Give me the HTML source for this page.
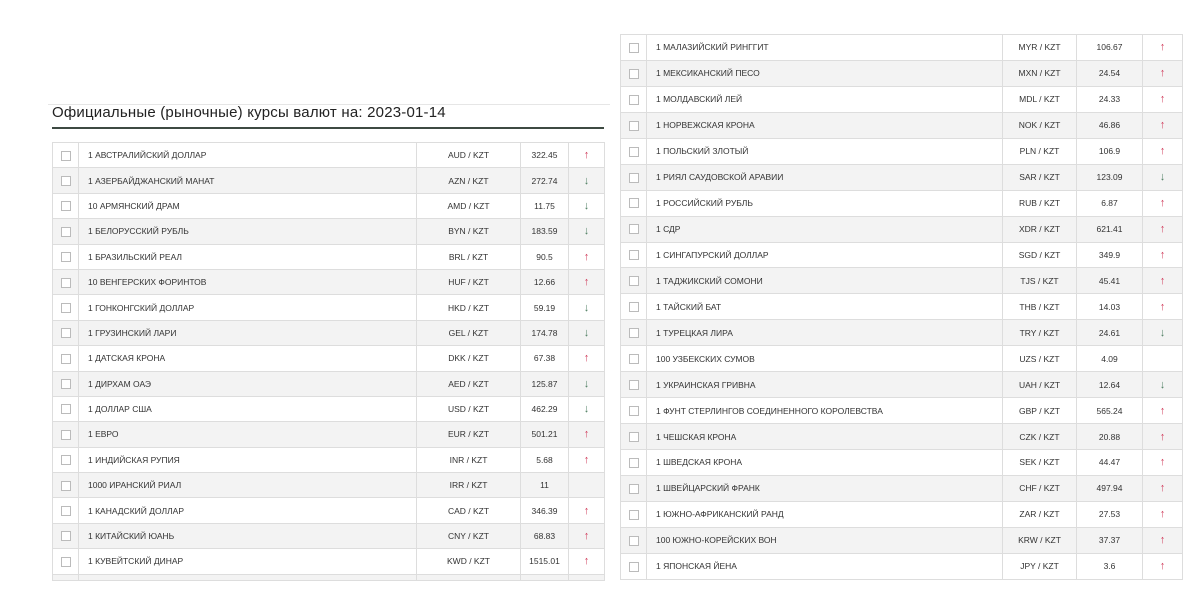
<!DOCTYPE html>
<html><head><meta charset="utf-8"><style>
body{margin:0;width:1200px;height:594px;background:#fff;position:relative;overflow:hidden;font-family:"Liberation Sans","DejaVu Sans",sans-serif;}
.title{position:absolute;left:52px;top:104px;font-size:15px;color:#222;letter-spacing:0.2px}
.gl{position:absolute;left:48px;top:104px;width:562px;height:1px;background:#e6e6e6}
.ul{position:absolute;left:52px;top:127px;width:552px;height:2px;background:#3d4a42}
table{position:absolute;border-collapse:collapse;table-layout:fixed;font-size:8.5px;color:#333}
td{border:1px solid #ddd;padding:0;overflow:hidden;white-space:nowrap}
tr:nth-child(even) td{background:#f3f3f3}
td.c{text-align:center}
td.n{padding-left:9px}
.cb{display:inline-block;width:8px;height:8px;border:1px solid #bbb;background:#fff;vertical-align:middle}
.u{color:#d03a5a;font-size:11px}
.d{color:#4d7d60;font-size:11px}
#L{left:52px;top:142px;width:552px}
#L tr{height:25.4px}
#R{left:620px;top:34px;width:562px}
#R tr{height:25.95px}
</style></head><body>
<div class="gl"></div>
<div class="title">Официальные (рыночные) курсы валют на: 2023-01-14</div>
<div class="ul"></div>
<table id="L">
<colgroup><col style="width:26px"><col style="width:338px"><col style="width:104px"><col style="width:48px"><col style="width:36px"></colgroup>
<tr><td class="c"><span class="cb"></span></td><td class="n">1 АВСТРАЛИЙСКИЙ ДОЛЛАР</td><td class="c">AUD / KZT</td><td class="c">322.45</td><td class="c u">↑</td></tr>
<tr><td class="c"><span class="cb"></span></td><td class="n">1 АЗЕРБАЙДЖАНСКИЙ МАНАТ</td><td class="c">AZN / KZT</td><td class="c">272.74</td><td class="c d">↓</td></tr>
<tr><td class="c"><span class="cb"></span></td><td class="n">10 АРМЯНСКИЙ ДРАМ</td><td class="c">AMD / KZT</td><td class="c">11.75</td><td class="c d">↓</td></tr>
<tr><td class="c"><span class="cb"></span></td><td class="n">1 БЕЛОРУССКИЙ РУБЛЬ</td><td class="c">BYN / KZT</td><td class="c">183.59</td><td class="c d">↓</td></tr>
<tr><td class="c"><span class="cb"></span></td><td class="n">1 БРАЗИЛЬСКИЙ РЕАЛ</td><td class="c">BRL / KZT</td><td class="c">90.5</td><td class="c u">↑</td></tr>
<tr><td class="c"><span class="cb"></span></td><td class="n">10 ВЕНГЕРСКИХ ФОРИНТОВ</td><td class="c">HUF / KZT</td><td class="c">12.66</td><td class="c u">↑</td></tr>
<tr><td class="c"><span class="cb"></span></td><td class="n">1 ГОНКОНГСКИЙ ДОЛЛАР</td><td class="c">HKD / KZT</td><td class="c">59.19</td><td class="c d">↓</td></tr>
<tr><td class="c"><span class="cb"></span></td><td class="n">1 ГРУЗИНСКИЙ ЛАРИ</td><td class="c">GEL / KZT</td><td class="c">174.78</td><td class="c d">↓</td></tr>
<tr><td class="c"><span class="cb"></span></td><td class="n">1 ДАТСКАЯ КРОНА</td><td class="c">DKK / KZT</td><td class="c">67.38</td><td class="c u">↑</td></tr>
<tr><td class="c"><span class="cb"></span></td><td class="n">1 ДИРХАМ ОАЭ</td><td class="c">AED / KZT</td><td class="c">125.87</td><td class="c d">↓</td></tr>
<tr><td class="c"><span class="cb"></span></td><td class="n">1 ДОЛЛАР США</td><td class="c">USD / KZT</td><td class="c">462.29</td><td class="c d">↓</td></tr>
<tr><td class="c"><span class="cb"></span></td><td class="n">1 ЕВРО</td><td class="c">EUR / KZT</td><td class="c">501.21</td><td class="c u">↑</td></tr>
<tr><td class="c"><span class="cb"></span></td><td class="n">1 ИНДИЙСКАЯ РУПИЯ</td><td class="c">INR / KZT</td><td class="c">5.68</td><td class="c u">↑</td></tr>
<tr><td class="c"><span class="cb"></span></td><td class="n">1000 ИРАНСКИЙ РИАЛ</td><td class="c">IRR / KZT</td><td class="c">11</td><td class="c"></td></tr>
<tr><td class="c"><span class="cb"></span></td><td class="n">1 КАНАДСКИЙ ДОЛЛАР</td><td class="c">CAD / KZT</td><td class="c">346.39</td><td class="c u">↑</td></tr>
<tr><td class="c"><span class="cb"></span></td><td class="n">1 КИТАЙСКИЙ ЮАНЬ</td><td class="c">CNY / KZT</td><td class="c">68.83</td><td class="c u">↑</td></tr>
<tr><td class="c"><span class="cb"></span></td><td class="n">1 КУВЕЙТСКИЙ ДИНАР</td><td class="c">KWD / KZT</td><td class="c">1515.01</td><td class="c u">↑</td></tr>
<tr style="height:6px"><td></td><td></td><td></td><td></td><td></td></tr>
</table>
<table id="R">
<colgroup><col style="width:26px"><col style="width:356px"><col style="width:74px"><col style="width:66px"><col style="width:40px"></colgroup>
<tr><td class="c"><span class="cb"></span></td><td class="n">1 МАЛАЗИЙСКИЙ РИНГГИТ</td><td class="c">MYR / KZT</td><td class="c">106.67</td><td class="c u">↑</td></tr>
<tr><td class="c"><span class="cb"></span></td><td class="n">1 МЕКСИКАНСКИЙ ПЕСО</td><td class="c">MXN / KZT</td><td class="c">24.54</td><td class="c u">↑</td></tr>
<tr><td class="c"><span class="cb"></span></td><td class="n">1 МОЛДАВСКИЙ ЛЕЙ</td><td class="c">MDL / KZT</td><td class="c">24.33</td><td class="c u">↑</td></tr>
<tr><td class="c"><span class="cb"></span></td><td class="n">1 НОРВЕЖСКАЯ КРОНА</td><td class="c">NOK / KZT</td><td class="c">46.86</td><td class="c u">↑</td></tr>
<tr><td class="c"><span class="cb"></span></td><td class="n">1 ПОЛЬСКИЙ ЗЛОТЫЙ</td><td class="c">PLN / KZT</td><td class="c">106.9</td><td class="c u">↑</td></tr>
<tr><td class="c"><span class="cb"></span></td><td class="n">1 РИЯЛ САУДОВСКОЙ АРАВИИ</td><td class="c">SAR / KZT</td><td class="c">123.09</td><td class="c d">↓</td></tr>
<tr><td class="c"><span class="cb"></span></td><td class="n">1 РОССИЙСКИЙ РУБЛЬ</td><td class="c">RUB / KZT</td><td class="c">6.87</td><td class="c u">↑</td></tr>
<tr><td class="c"><span class="cb"></span></td><td class="n">1 СДР</td><td class="c">XDR / KZT</td><td class="c">621.41</td><td class="c u">↑</td></tr>
<tr><td class="c"><span class="cb"></span></td><td class="n">1 СИНГАПУРСКИЙ ДОЛЛАР</td><td class="c">SGD / KZT</td><td class="c">349.9</td><td class="c u">↑</td></tr>
<tr><td class="c"><span class="cb"></span></td><td class="n">1 ТАДЖИКСКИЙ СОМОНИ</td><td class="c">TJS / KZT</td><td class="c">45.41</td><td class="c u">↑</td></tr>
<tr><td class="c"><span class="cb"></span></td><td class="n">1 ТАЙСКИЙ БАТ</td><td class="c">THB / KZT</td><td class="c">14.03</td><td class="c u">↑</td></tr>
<tr><td class="c"><span class="cb"></span></td><td class="n">1 ТУРЕЦКАЯ ЛИРА</td><td class="c">TRY / KZT</td><td class="c">24.61</td><td class="c d">↓</td></tr>
<tr><td class="c"><span class="cb"></span></td><td class="n">100 УЗБЕКСКИХ СУМОВ</td><td class="c">UZS / KZT</td><td class="c">4.09</td><td class="c"></td></tr>
<tr><td class="c"><span class="cb"></span></td><td class="n">1 УКРАИНСКАЯ ГРИВНА</td><td class="c">UAH / KZT</td><td class="c">12.64</td><td class="c d">↓</td></tr>
<tr><td class="c"><span class="cb"></span></td><td class="n">1 ФУНТ СТЕРЛИНГОВ СОЕДИНЕННОГО КОРОЛЕВСТВА</td><td class="c">GBP / KZT</td><td class="c">565.24</td><td class="c u">↑</td></tr>
<tr><td class="c"><span class="cb"></span></td><td class="n">1 ЧЕШСКАЯ КРОНА</td><td class="c">CZK / KZT</td><td class="c">20.88</td><td class="c u">↑</td></tr>
<tr><td class="c"><span class="cb"></span></td><td class="n">1 ШВЕДСКАЯ КРОНА</td><td class="c">SEK / KZT</td><td class="c">44.47</td><td class="c u">↑</td></tr>
<tr><td class="c"><span class="cb"></span></td><td class="n">1 ШВЕЙЦАРСКИЙ ФРАНК</td><td class="c">CHF / KZT</td><td class="c">497.94</td><td class="c u">↑</td></tr>
<tr><td class="c"><span class="cb"></span></td><td class="n">1 ЮЖНО-АФРИКАНСКИЙ РАНД</td><td class="c">ZAR / KZT</td><td class="c">27.53</td><td class="c u">↑</td></tr>
<tr><td class="c"><span class="cb"></span></td><td class="n">100 ЮЖНО-КОРЕЙСКИХ ВОН</td><td class="c">KRW / KZT</td><td class="c">37.37</td><td class="c u">↑</td></tr>
<tr><td class="c"><span class="cb"></span></td><td class="n">1 ЯПОНСКАЯ ЙЕНА</td><td class="c">JPY / KZT</td><td class="c">3.6</td><td class="c u">↑</td></tr>
</table>
</body></html>
